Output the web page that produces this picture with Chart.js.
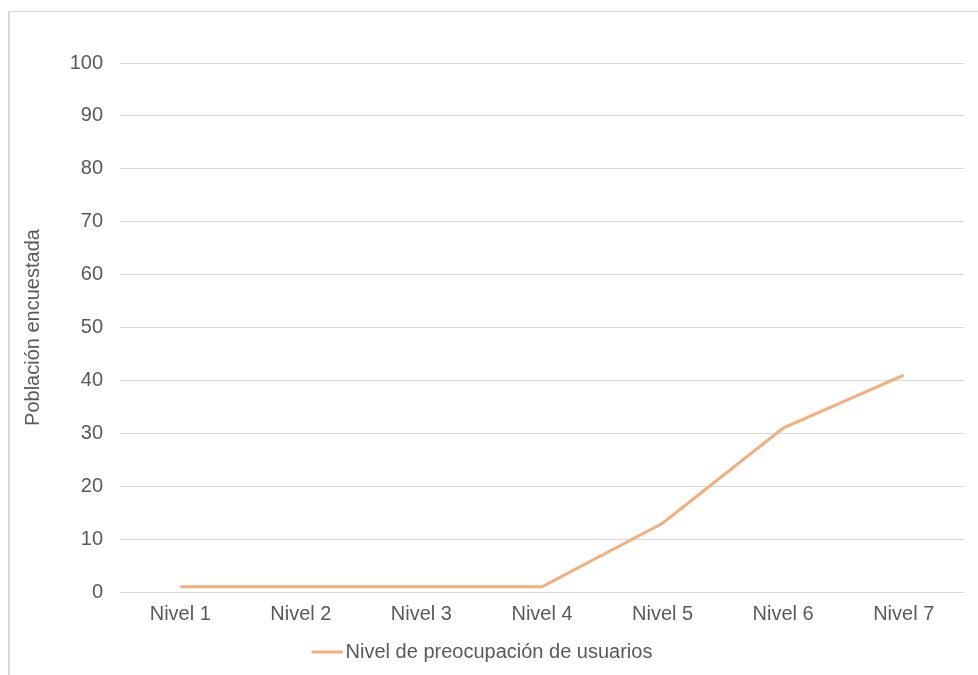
<!DOCTYPE html>
<html>
<head>
<meta charset="utf-8">
<script src="https://cdn.jsdelivr.net/npm/chart.js@4/dist/chart.umd.min.js"></script>
<style>
  html, body { margin: 0; padding: 0; background: #ffffff; }
  #wrap { position: relative; width: 978px; height: 675px; overflow: hidden; }
  #frame { position: absolute; left: 8px; top: 11px; width: 990px; height: 700px;
           border: 1px solid #d9d9d9; border-left-width: 2px; box-sizing: border-box; pointer-events: none; }
  canvas { position: absolute; left: 0; top: 0; }
</style>
</head>
<body>
<div id="wrap">
  <canvas id="chart" width="978" height="675"></canvas>
  <div id="frame"></div>
</div>
<script>
// Survey results: respondents per concern level
const categories = ['Nivel 1', 'Nivel 2', 'Nivel 3', 'Nivel 4', 'Nivel 5', 'Nivel 6', 'Nivel 7'];
const concernValues = [1, 1, 1, 1, 13, 31, 41];
const seriesLabel = 'Nivel de preocupación de usuarios';
const yTitle = 'Población encuestada';
const yMin = 0;
const yMax = 100;
const yStep = 10;

const textColor = '#595959';
const lineColor = '#f4ae7e';
const fontFamily = '"Liberation Sans", Arial, sans-serif';

// Legend swatch: a short line sitting close to the label text
function legendSwatch() {
  const c = document.createElement('canvas');
  c.width = 48;
  c.height = 6;
  const g = c.getContext('2d');
  g.strokeStyle = lineColor;
  g.lineWidth = 3;
  g.beginPath();
  g.moveTo(12, 3);
  g.lineTo(43, 3);
  g.stroke();
  return c;
}

new Chart(document.getElementById('chart'), {
  type: 'line',
  data: {
    labels: categories,
    datasets: [{
      label: seriesLabel,
      data: concernValues,
      borderColor: lineColor,
      backgroundColor: lineColor,
      borderWidth: 3,
      pointRadius: 0,
      pointHoverRadius: 0,
      pointStyle: legendSwatch(),
      tension: 0,
      fill: false
    }]
  },
  options: {
    responsive: false,
    animation: false,
    devicePixelRatio: 1,
    layout: { padding: { left: 0, right: 14, top: 63, bottom: 3 } },
    plugins: {
      tooltip: { enabled: false },
      legend: {
        position: 'bottom',
        labels: {
          usePointStyle: true,
          pointStyleWidth: 24,
          boxHeight: 6,
          color: textColor,
          font: { family: fontFamily, size: 20 },
          padding: 10
        }
      }
    },
    scales: {
      x: {
        offset: true,
        grid: { display: false, drawTicks: false },
        border: { display: false },
        ticks: {
          color: textColor,
          font: { family: fontFamily, size: 20 },
          padding: 10,
          maxRotation: 0
        },
        afterFit: (s) => { s.height = 40; }
      },
      y: {
        min: yMin,
        max: yMax,
        grid: { color: '#d9d9d9', lineWidth: 1, drawTicks: false },
        border: { display: false },
        ticks: {
          stepSize: yStep,
          color: textColor,
          font: { family: fontFamily, size: 20 },
          padding: 17
        },
        title: {
          display: true,
          text: yTitle,
          color: textColor,
          font: { family: fontFamily, size: 20 },
          padding: { top: 21, bottom: 0 }
        },
        afterFit: (s) => { s.width = 120; }
      }
    }
  }
});
</script>
</body>
</html>
